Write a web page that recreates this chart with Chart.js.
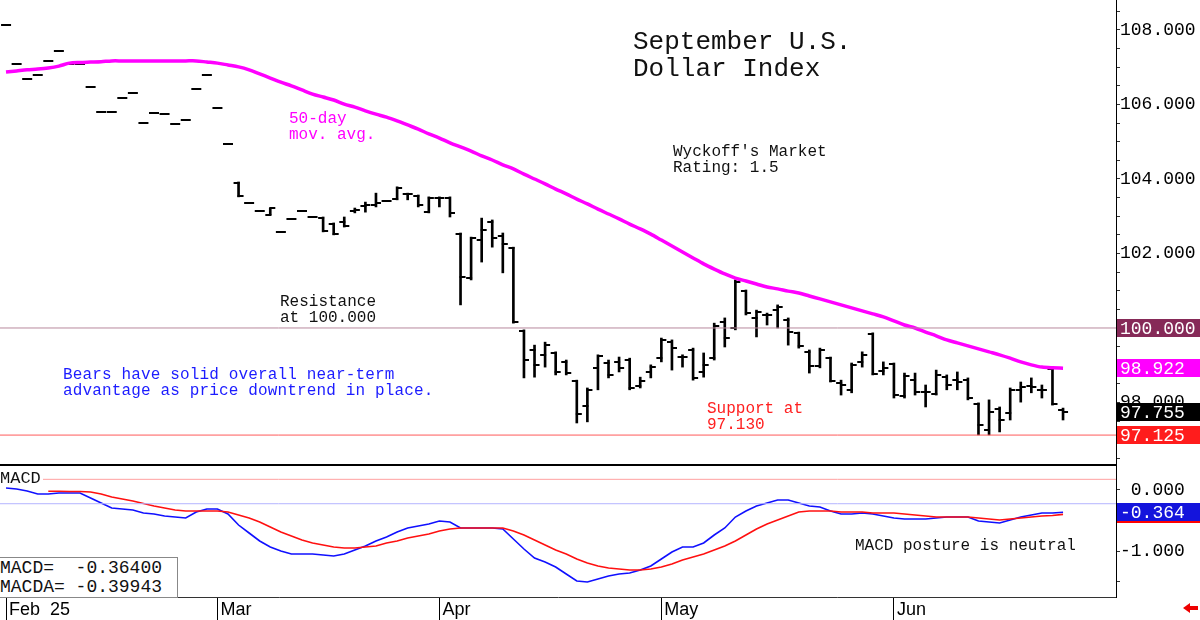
<!DOCTYPE html>
<html>
<head>
<meta charset="utf-8">
<script src="https://cdn.jsdelivr.net/npm/chart.js@4.4.1/dist/chart.umd.min.js"></script>
<style>
  body { margin: 0; width: 1200px; height: 620px; overflow: hidden; position: relative; background: #fff; font-family: "Liberation Mono", monospace; }
  canvas { position: absolute; left: 0; }
  #priceCanvas { top: 0; }
  #macdCanvas { top: 466px; }
  .note { position: absolute; white-space: pre; font-size: 16px; line-height: 16px; color: #111; }
  #sep { position: absolute; left: 0; top: 464px; width: 1117px; height: 2px; background: #000; }
</style>
</head>
<body>
<canvas id="priceCanvas" width="1200" height="465"></canvas>
<div id="sep"></div>
<canvas id="macdCanvas" width="1200" height="154"></canvas>

<div class="note" style="left:633px;top:29px;font-size:26px;line-height:27px;">September U.S.
Dollar Index</div>
<div class="note" style="left:289px;top:111px;color:#f0f;">50-day
mov. avg.</div>
<div class="note" style="left:673px;top:144px;">Wyckoff's Market
Rating: 1.5</div>
<div class="note" style="left:280px;top:294px;">Resistance
at 100.000</div>
<div class="note" style="left:63px;top:367px;color:#1c1cff;letter-spacing:0.15px;">Bears have solid overall near-term
advantage as price downtrend in place.</div>
<div class="note" style="left:707px;top:401px;color:#ff2020;">Support at
97.130</div>
<div class="note" style="left:855px;top:538px;">MACD posture is neutral</div>
<div class="note" style="left:0;top:470px;font-size:17px;line-height:17px;background:#fff;padding-right:2px;">MACD</div>
<div style="position:absolute;left:-1px;top:557px;width:177px;height:39px;border:1px solid #888;background:#fff;"></div>
<div class="note" style="left:0;top:559px;font-size:18px;line-height:18.5px;">MACD=  -0.36400
MACDA= -0.39943</div>
<div style="position:absolute;left:1183px;top:603px;width:0;height:0;border-top:5px solid transparent;border-bottom:5px solid transparent;border-right:7px solid #e00;"></div>
<div style="position:absolute;left:1189px;top:606px;width:9px;height:4px;background:#e00;"></div>

<script>
// ---- data ----
const monthLabels = ['Feb  25', 'Mar', 'Apr', 'May', 'Jun'];
const monthStart  = [0, 20, 41, 62, 84];

const opens = [108.13,107.09,106.68,106.79,107.17,107.44,107.09,107.09,106.47,105.80,
  105.80,106.17,106.31,105.50,105.77,105.74,105.48,105.58,106.42,106.79,
  105.91,104.94,103.89,103.36,103.14,103.03,102.58,102.93,103.14,102.98,
  102.96,102.79,102.85,103.14,103.28,103.30,103.41,103.46,103.60,103.54,
  103.11,103.49,103.49,102.52,101.34,102.36,102.85,102.47,102.15,99.92,
  99.41,99.28,99.33,99.09,98.58,97.91,98.93,99.06,99.09,99.14,
  98.44,98.82,99.19,99.62,99.22,99.41,98.82,99.19,100.16,100.00,
  100.99,100.27,100.35,100.48,100.21,99.87,99.36,98.98,99.19,98.52,
  98.34,99.09,99.84,98.85,99.03,98.17,98.60,98.28,98.23,98.68,
  98.60,98.60,97.96,97.26,97.83,97.72,98.34,98.44,98.34,98.90,97.80];
const highs = [108.13,107.09,106.68,106.79,107.17,107.44,107.09,107.09,106.47,105.80,
  105.80,106.17,106.31,105.50,105.77,105.74,105.48,105.58,106.42,106.79,
  105.91,104.94,103.92,103.36,103.14,103.22,102.58,102.93,103.14,102.98,
  102.98,102.82,102.98,103.22,103.38,103.62,103.41,103.79,103.62,103.57,
  103.52,103.52,103.52,102.55,102.44,102.95,102.90,102.55,102.17,99.95,
  99.54,99.62,99.36,99.14,98.60,98.39,99.28,99.14,99.22,99.19,
  98.68,99.01,99.73,99.68,99.28,99.46,99.33,100.13,100.27,101.29,
  101.02,100.48,100.40,100.62,100.27,99.89,99.41,99.46,99.22,98.60,
  99.06,99.36,99.87,99.09,99.06,98.79,98.79,98.47,98.87,98.74,
  98.82,98.66,97.99,98.07,97.88,98.39,98.55,98.66,98.47,98.95,97.85];
const lows = [108.13,107.09,106.68,106.79,107.17,107.44,107.09,107.09,106.47,105.80,
  105.80,106.17,106.31,105.50,105.77,105.74,105.48,105.58,106.42,106.79,
  105.91,104.94,103.52,103.36,103.14,103.03,102.58,102.93,103.14,102.98,
  102.58,102.50,102.71,103.09,103.11,103.25,103.41,103.44,103.44,103.25,
  103.09,103.25,102.98,100.62,101.29,101.77,102.17,101.48,100.13,98.66,
  98.68,98.95,98.74,98.74,97.45,97.48,98.34,98.66,98.82,98.34,
  98.39,98.66,99.09,98.87,98.95,98.60,98.68,99.14,99.49,99.95,
  100.35,99.76,100.08,100.00,99.54,99.46,98.79,98.93,98.55,98.20,
  98.26,98.95,98.74,98.74,98.12,98.12,98.20,97.88,98.20,98.34,
  98.34,98.07,97.13,97.13,97.21,97.53,98.01,98.26,98.12,97.93,97.53];
const closes = [108.13,107.09,106.68,106.79,107.17,107.44,107.09,107.09,106.47,105.80,
  105.80,106.17,106.31,105.50,105.77,105.74,105.48,105.58,106.42,106.79,
  105.91,104.94,103.55,103.36,103.14,103.22,102.58,102.93,103.14,102.98,
  102.60,102.52,102.74,103.17,103.30,103.36,103.41,103.76,103.60,103.30,
  103.49,103.49,103.09,101.37,102.42,102.63,102.42,102.26,100.16,99.14,
  99.01,99.55,98.82,98.79,97.69,98.34,99.25,98.74,98.93,98.39,
  98.58,98.95,99.68,99.46,99.22,98.66,99.01,100.05,99.73,101.23,
  100.40,100.43,100.35,100.56,99.89,99.52,98.98,99.41,98.58,98.47,
  99.01,99.28,98.77,98.93,98.20,98.71,98.28,98.28,98.74,98.47,
  98.55,98.12,97.40,97.75,97.53,98.34,98.42,98.42,98.34,97.96,97.755];

const ma50 = [106.87,106.90,106.93,106.95,106.98,107.03,107.11,107.13,107.14,107.15,
  107.17,107.17,107.17,107.17,107.17,107.17,107.17,107.17,107.17,107.14,
  107.11,107.06,107.01,106.93,106.82,106.71,106.60,106.50,106.39,106.28,
  106.20,106.12,106.01,105.93,105.83,105.74,105.66,105.56,105.45,105.34,
  105.21,105.10,104.97,104.86,104.75,104.62,104.51,104.38,104.27,104.13,
  104.00,103.87,103.73,103.60,103.46,103.33,103.19,103.06,102.93,102.79,
  102.66,102.52,102.36,102.20,102.04,101.88,101.72,101.58,101.45,101.34,
  101.26,101.18,101.10,101.05,100.99,100.94,100.86,100.78,100.70,100.62,
  100.54,100.46,100.38,100.30,100.19,100.08,100.00,99.89,99.79,99.68,
  99.60,99.52,99.44,99.36,99.28,99.19,99.09,99.01,98.95,98.93,98.922];

const macd = [0.033,0.016,-0.016,-0.066,-0.066,-0.049,-0.049,-0.049,-0.131,-0.213,
  -0.295,-0.311,-0.328,-0.377,-0.393,-0.426,-0.443,-0.459,-0.361,-0.311,
  -0.311,-0.393,-0.574,-0.705,-0.836,-0.934,-1.000,-1.049,-1.049,-1.049,
  -1.066,-1.082,-1.049,-0.984,-0.918,-0.836,-0.770,-0.689,-0.623,-0.590,
  -0.557,-0.508,-0.525,-0.623,-0.623,-0.623,-0.623,-0.639,-0.803,-0.967,
  -1.115,-1.180,-1.262,-1.377,-1.492,-1.508,-1.459,-1.410,-1.377,-1.361,
  -1.311,-1.246,-1.131,-1.016,-0.934,-0.934,-0.869,-0.738,-0.623,-0.443,
  -0.344,-0.262,-0.213,-0.164,-0.164,-0.213,-0.262,-0.279,-0.344,-0.393,
  -0.393,-0.377,-0.393,-0.426,-0.459,-0.475,-0.475,-0.475,-0.459,-0.443,
  -0.443,-0.443,-0.508,-0.525,-0.541,-0.492,-0.443,-0.410,-0.377,-0.377,-0.364];
const macdSignal = [null,null,null,null,-0.020,-0.020,-0.025,-0.025,-0.033,-0.066,
  -0.115,-0.148,-0.180,-0.221,-0.262,-0.295,-0.328,-0.344,-0.344,-0.344,
  -0.344,-0.361,-0.410,-0.459,-0.525,-0.607,-0.689,-0.754,-0.820,-0.869,
  -0.902,-0.934,-0.951,-0.951,-0.934,-0.918,-0.869,-0.836,-0.787,-0.754,
  -0.721,-0.672,-0.639,-0.623,-0.623,-0.623,-0.623,-0.623,-0.672,-0.738,
  -0.820,-0.902,-0.984,-1.049,-1.131,-1.197,-1.246,-1.279,-1.295,-1.311,
  -1.311,-1.295,-1.262,-1.213,-1.148,-1.098,-1.049,-0.984,-0.918,-0.836,
  -0.738,-0.639,-0.557,-0.492,-0.426,-0.361,-0.344,-0.344,-0.344,-0.361,
  -0.361,-0.361,-0.377,-0.377,-0.377,-0.393,-0.410,-0.426,-0.443,-0.443,
  -0.443,-0.443,-0.459,-0.475,-0.492,-0.475,-0.459,-0.443,-0.426,-0.418,-0.399];

const resistance = 100.000;
const support = 97.125;
const lastClose = 97.755;
const lastMa = 98.922;
const lastMacd = -0.364;
const lastSignal = -0.399;
const macdUpper = 0.175;
const macdLower = -0.225;

const priceLabelTicks = [98, 100, 102, 104, 106, 108];
const macdLabelTicks = [0, -1];

// ---- setup ----
Chart.defaults.font.family = '"Liberation Mono", monospace';
Chart.defaults.animation = false;

const X_MIN = -0.568, X_MAX = 105.01;
const idx = closes.map((_, i) => i);
const pts = arr => idx.map(i => ({ x: i, y: arr[i] }));
const flat = v => [{ x: -2, y: v }, { x: 107, y: v }];

function tickImg(side) {
  const c = document.createElement('canvas');
  c.width = 12; c.height = 2;
  const g = c.getContext('2d');
  g.fillStyle = '#000';
  g.fillRect(side === 'open' ? 1 : 5, 0, 6, 2);
  return c;
}

const valueBoxes = {
  id: 'valueBoxes',
  afterDraw(chart, args, opts) {
    const sc = chart.scales.y, ctx = chart.ctx;
    ctx.save();
    ctx.font = '18px "Liberation Mono"';
    ctx.textBaseline = 'middle';
    opts.boxes.forEach(b => {
      const py = Math.round(sc.getPixelForValue(b.value));
      ctx.fillStyle = b.bg;
      ctx.fillRect(sc.left + 1, py - 9, chart.width - sc.left - 1, 18);
      ctx.fillStyle = '#fff';
      ctx.fillText(b.value.toFixed(3), sc.left + 4, py + 1);
    });
    ctx.restore();
  }
};

function rightAxis(min, max, labels, fmt) {
  return {
    type: 'linear', position: 'right', min, max, beginAtZero: false,
    border: { display: true, color: '#000', width: 1 },
    grid: { drawOnChartArea: false, drawTicks: true, tickLength: 4, color: '#333' },
    ticks: {
      color: '#000', padding: 0, font: { size: 18 }, autoSkip: false,
      callback: v => labels.includes(v) ? fmt(v) : ''
    },
    afterBuildTicks(s) {
      const t = [];
      for (let v = Math.ceil(min * 2) / 2; v <= max; v += 0.5) t.push({ value: v });
      s.ticks = t;
    },
    afterFit(s) { s.width = 84; s.paddingTop = 0; s.paddingBottom = 0; }
  };
}

new Chart(document.getElementById('priceCanvas'), {
  type: 'line',
  data: {
    datasets: [
      { data: flat(resistance), borderColor: '#b8899d', borderWidth: 1, pointRadius: 0 },
      { data: flat(support), borderColor: '#ff5a5a', borderWidth: 1, pointRadius: 0 },
      { data: pts(ma50), borderColor: '#ff00ff', borderWidth: 3.5, pointRadius: 0, tension: 0.3 },
      { type: 'bar', data: idx.map(i => ({ x: i, y: [lows[i], highs[i]] })),
        backgroundColor: '#000', barThickness: 2, borderWidth: 0 },
      { data: pts(opens), showLine: false, pointStyle: tickImg('open'), pointRadius: 6 },
      { data: pts(closes), showLine: false, pointStyle: tickImg('close'), pointRadius: 6 }
    ]
  },
  options: {
    responsive: false, devicePixelRatio: 1,
    layout: { padding: 0, autoPadding: false },
    plugins: {
      legend: { display: false }, tooltip: { enabled: false },
      valueBoxes: { boxes: [
        { value: resistance, bg: '#862a58' },
        { value: lastMa, bg: '#ff00ff' },
        { value: support, bg: '#ff1c1c' },
        { value: lastClose, bg: '#000' }
      ] }
    },
    scales: {
      x: { type: 'linear', display: false, min: X_MIN, max: X_MAX, offset: false, grid: { offset: false } },
      y: rightAxis(96.322, 108.805, priceLabelTicks, v => v.toFixed(3))
    }
  },
  plugins: [valueBoxes]
});

new Chart(document.getElementById('macdCanvas'), {
  type: 'line',
  data: {
    datasets: [
      { data: flat(macdUpper), borderColor: '#ffa0a0', borderWidth: 1, pointRadius: 0 },
      { data: flat(macdLower), borderColor: '#b4b4ff', borderWidth: 1, pointRadius: 0 },
      { data: pts(macdSignal), borderColor: '#ff1010', borderWidth: 1.6, pointRadius: 0, spanGaps: false },
      { data: pts(macd), borderColor: '#1010ff', borderWidth: 1.6, pointRadius: 0 }
    ]
  },
  options: {
    responsive: false, devicePixelRatio: 1,
    layout: { padding: 0, autoPadding: false },
    plugins: {
      legend: { display: false }, tooltip: { enabled: false },
      valueBoxes: { boxes: [
        { value: lastSignal, bg: '#ff0000' },
        { value: lastMacd, bg: '#1414dc' }
      ] }
    },
    scales: {
      x: {
        type: 'linear', min: X_MIN, max: X_MAX, offset: false,
        border: { display: true, color: '#333', width: 1 },
        grid: { drawOnChartArea: false, drawTicks: true, tickLength: 23, color: '#000', offset: false },
        ticks: {
          color: '#000', font: { family: '"Liberation Sans", Arial, sans-serif', size: 18 },
          align: 'start', labelOffset: 3, padding: -21, maxRotation: 0, autoSkip: false,
          callback: v => monthLabels[monthStart.indexOf(v)]
        },
        afterBuildTicks(s) { s.ticks = monthStart.map(v => ({ value: v })); },
        afterFit(s) { s.height = 23; }
      },
      y: rightAxis(-1.754, 0.3934, macdLabelTicks,
        v => (v < 0 ? '-' : ' ') + Math.abs(v).toFixed(3))
    }
  },
  plugins: [valueBoxes]
});
</script>
</body>
</html>
